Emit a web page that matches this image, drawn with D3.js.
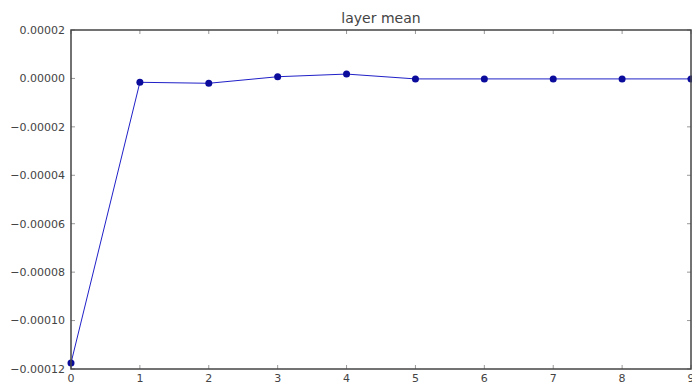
<!DOCTYPE html>
<html><head><meta charset="utf-8">
<script src="https://cdn.jsdelivr.net/npm/d3@7"></script>
<style>body{margin:0;background:#fff}svg{display:block}</style>
</head><body>
<script>
const layers = [0,1,2,3,4,5,6,7,8,9];
const meanValues = [-0.0001175,-0.0000016,-0.0000020,0.0000007,0.0000018,-0.0000002,-0.0000002,-0.0000002,-0.0000002,-0.0000002];
const yTicks = [0.00002,0.0,-0.00002,-0.00004,-0.00006,-0.00008,-0.00010,-0.00012];
const xTicks = [0,1,2,3,4,5,6,7,8,9];
const title = "layer mean";

const W=692,H=382;
const m={left:71,top:30,right:691,bottom:369};
const svg=d3.select("body").append("svg").attr("width",W).attr("height",H);
const x=d3.scaleLinear().domain([0,9]).range([m.left,m.right]);
const y=d3.scaleLinear().domain([-0.00012,0.00002]).range([m.bottom,m.top]);
const font="DejaVu Sans, sans-serif";
const fmt=v=>{const s=Math.abs(v).toFixed(5);return (v<-1e-12?"\u2212":"")+s;};

// ticks inward
const tc="#999";
xTicks.forEach(t=>{
  svg.append("line").attr("x1",x(t)).attr("x2",x(t)).attr("y1",m.bottom).attr("y2",m.bottom-4).attr("stroke",tc);
  svg.append("line").attr("x1",x(t)).attr("x2",x(t)).attr("y1",m.top).attr("y2",m.top+4).attr("stroke",tc);
  svg.append("text").attr("x",x(t)).attr("y",m.bottom+12.5).attr("text-anchor","middle")
    .attr("font-family",font).attr("font-size",11).attr("fill","#444").text(t);
});
yTicks.forEach(t=>{
  svg.append("line").attr("x1",m.left).attr("x2",m.left+4).attr("y1",y(t)).attr("y2",y(t)).attr("stroke",tc);
  svg.append("line").attr("x1",m.right).attr("x2",m.right-4).attr("y1",y(t)).attr("y2",y(t)).attr("stroke",tc);
  svg.append("text").attr("x",m.left-6).attr("y",y(t)).attr("dy","0.35em").attr("text-anchor","end")
    .attr("font-family",font).attr("font-size",11).attr("fill","#444").text(fmt(t));
});

const data=layers.map((l,i)=>({l,v:meanValues[i]}));
svg.append("path").datum(data).attr("fill","none").attr("stroke","#2020c8").attr("stroke-width",1)
  .attr("d",d3.line().x(d=>x(d.l)).y(d=>y(d.v)));
svg.selectAll("circle.pt").data(data).enter().append("circle").attr("class","pt")
  .attr("cx",d=>x(d.l)).attr("cy",d=>y(d.v)).attr("r",3.5).attr("fill","#0c0c9c");

svg.append("rect").attr("x",m.left).attr("y",m.top).attr("width",m.right-m.left).attr("height",m.bottom-m.top)
  .attr("fill","none").attr("stroke","#444").attr("stroke-width",1.5);

svg.append("text").attr("x",381).attr("y",23).attr("text-anchor","middle")
  .attr("font-family",font).attr("font-size",14).attr("fill","#444").text(title);
</script>
</body></html>
